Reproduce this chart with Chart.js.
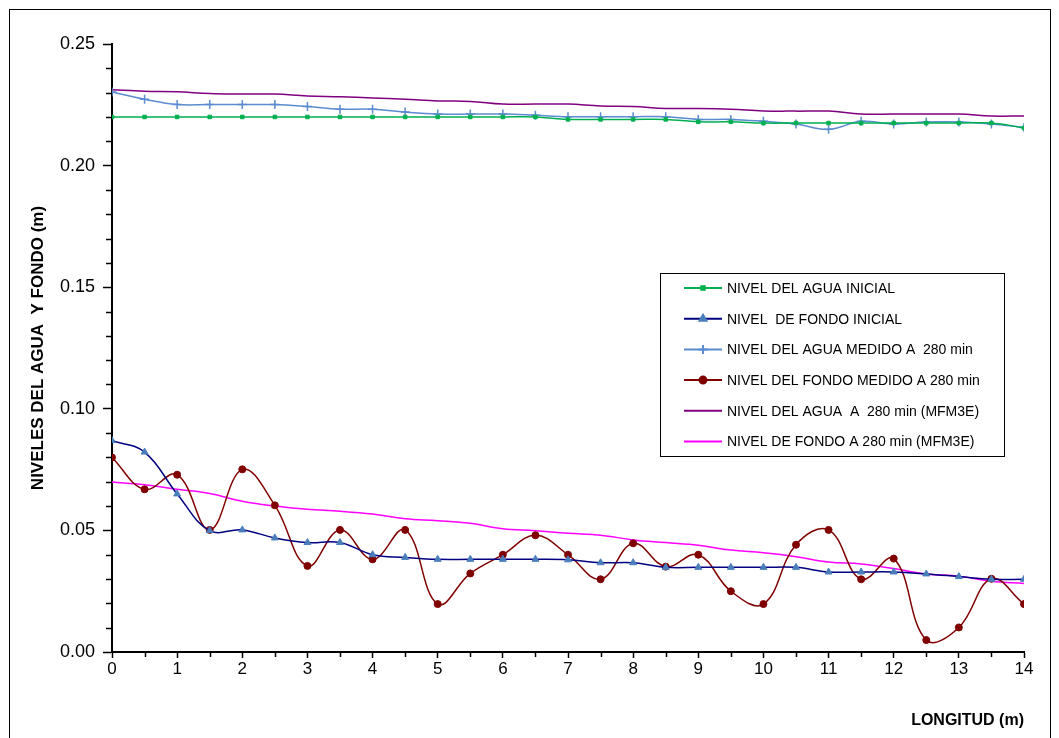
<!DOCTYPE html>
<html>
<head>
<meta charset="utf-8">
<script src="https://cdn.jsdelivr.net/npm/chart.js@4"></script>
<style>
  html, body { margin: 0; padding: 0; background: #fff; }
  #wrap { position: relative; width: 1059px; height: 738px; }
  #frame { position: absolute; left: 9px; top: 9px; width: 1040px; height: 740px; border: 1px solid #000; pointer-events: none; }
</style>
</head>
<body>
<div id="wrap">
  <canvas id="myChart" width="1059" height="738"></canvas>
  <div id="frame"></div>
</div>
<script>
// longitud (m)
const longitud = [0, 0.5, 1, 1.5, 2, 2.5, 3, 3.5, 4, 4.5, 5, 5.5, 6, 6.5, 7,
    7.5, 8, 8.5, 9, 9.5, 10, 10.5, 11, 11.5, 12, 12.5, 13, 13.5, 14];

const aguaInicial = [0.220, 0.220, 0.220, 0.220, 0.220, 0.220, 0.220, 0.220, 0.220, 0.220,
    0.220, 0.220, 0.220, 0.220, 0.219, 0.219, 0.219, 0.219, 0.218, 0.218,
    0.2175, 0.2175, 0.2175, 0.2175, 0.2175, 0.2175, 0.2175, 0.2175, 0.2155];

const fondoInicial = [0.0869, 0.0822, 0.0650, 0.0499, 0.0502, 0.0469, 0.0450, 0.0450, 0.0400, 0.0389,
    0.0381, 0.0381, 0.0381, 0.0381, 0.0379, 0.0367, 0.0367, 0.0348, 0.0348, 0.0348,
    0.0348, 0.0348, 0.0329, 0.0329, 0.0329, 0.0321, 0.0310, 0.0299, 0.0299];

const aguaMedido = [0.2303, 0.2273, 0.2251, 0.2251, 0.2251, 0.2251, 0.2243, 0.2232, 0.2232, 0.2220,
    0.2212, 0.2212, 0.2212, 0.2207, 0.2201, 0.2201, 0.2201, 0.2201, 0.2190, 0.2190,
    0.2182, 0.2171, 0.2149, 0.2182, 0.2171, 0.2179, 0.2179, 0.2171, 0.2157];

const fondoMedido = [0.0800, 0.0669, 0.0729, 0.0502, 0.0751, 0.0603, 0.0354, 0.0502, 0.0381, 0.0502,
    0.0197, 0.0323, 0.0400, 0.0480, 0.0400, 0.0299, 0.0447, 0.0351, 0.0400, 0.0250,
    0.0197, 0.0441, 0.0502, 0.0299, 0.0384, 0.0049, 0.0101, 0.0301, 0.0197];

const aguaModelo = [0.2312, 0.2306, 0.2304, 0.2296, 0.2294, 0.2294, 0.2286, 0.2283, 0.2278, 0.2273,
    0.2266, 0.2264, 0.2253, 0.2253, 0.2253, 0.2245, 0.2243, 0.2235, 0.2235, 0.2232,
    0.2225, 0.2224, 0.2224, 0.2212, 0.2212, 0.2212, 0.2212, 0.2204, 0.2204];

const fondoModelo = [0.0699, 0.0688, 0.0669, 0.0652, 0.0620, 0.0600, 0.0587, 0.0579, 0.0567, 0.0548,
    0.0540, 0.0529, 0.0507, 0.0499, 0.0488, 0.0480, 0.0461, 0.0450, 0.0439, 0.0419,
    0.0408, 0.0392, 0.0370, 0.0362, 0.0343, 0.0321, 0.0312, 0.0291, 0.0282];

const FONT = 'Arial, "Liberation Sans", sans-serif';

function pts(ys) {
    return longitud.map((x, i) => ({ x: x, y: ys[i] }));
}

function serie(label, ys, color, style, radius, fill) {
    return {
        label: label,
        data: pts(ys),
        borderColor: color,
        backgroundColor: fill || color,
        pointBorderColor: fill || color,
        pointBackgroundColor: fill || color,
        borderWidth: 1.5,
        pointStyle: style,
        pointRadius: radius,
        pointBorderWidth: style === 'cross' ? 1.5 : 1,
        tension: 0.4,
        fill: false
    };
}

const datasets = [
    serie('NIVEL DEL AGUA INICIAL', aguaInicial, '#00b050', 'rect', 2.5),
    serie('NIVEL  DE FONDO INICIAL', fondoInicial, '#000080', 'triangle', 4, '#4a7ebb'),
    serie('NIVEL DEL AGUA MEDIDO A  280 min', aguaMedido, '#5b8bd0', 'cross', 4.5),
    serie('NIVEL DEL FONDO MEDIDO A 280 min', fondoMedido, '#800000', 'circle', 3.5),
    serie('NIVEL DEL AGUA  A  280 min (MFM3E)', aguaModelo, '#800080', false, 0),
    serie('NIVEL DE FONDO A 280 min (MFM3E)', fondoModelo, '#ff00ff', false, 0)
];

// minor ticks on both axes
const minorTicks = {
    id: 'minorTicks',
    afterDraw(chart) {
        const ctx = chart.ctx;
        const xs = chart.scales.x, ys = chart.scales.y;
        const area = chart.chartArea;
        ctx.save();
        ctx.strokeStyle = '#000';
        ctx.lineWidth = 1.5;
        ctx.beginPath();
        for (let v = 1; v < 25; v++) {
            if (v % 5 === 0) continue;
            const py = Math.round(ys.getPixelForValue(v / 100)) + 0.5;
            ctx.moveTo(area.left - 6, py);
            ctx.lineTo(area.left, py);
        }
        for (let v = 1; v < 28; v += 2) {
            const px = Math.round(xs.getPixelForValue(v / 2)) + 0.5;
            ctx.moveTo(px, area.bottom);
            ctx.lineTo(px, area.bottom + 5);
        }
        ctx.stroke();
        ctx.restore();
    }
};

// legend box inside the plot
const boxLegend = {
    id: 'boxLegend',
    afterDraw(chart) {
        const ctx = chart.ctx;
        const left = 660, top = 273, w = 344, h = 183;
        ctx.save();
        ctx.fillStyle = '#fff';
        ctx.fillRect(left, top, w, h);
        ctx.strokeStyle = '#000';
        ctx.lineWidth = 1;
        ctx.strokeRect(left + 0.5, top + 0.5, w, h);
        ctx.font = '14px ' + FONT;
        ctx.textBaseline = 'middle';
        chart.data.datasets.forEach((ds, i) => {
            const y = top + 15 + i * 30.7;
            ctx.strokeStyle = ds.borderColor;
            ctx.lineWidth = 2;
            ctx.beginPath();
            ctx.moveTo(684, y);
            ctx.lineTo(722, y);
            ctx.stroke();
            if (ds.pointStyle) {
                ctx.fillStyle = ds.pointBackgroundColor;
                ctx.strokeStyle = ds.pointBorderColor;
                Chart.helpers.drawPoint(ctx, {
                    pointStyle: ds.pointStyle,
                    radius: ds.pointRadius,
                    borderWidth: ds.pointBorderWidth,
                    rotation: 0
                }, 703, y);
            }
            ctx.fillStyle = '#000';
            ctx.fillText(ds.label, 727, y + 1);
        });
        ctx.restore();
    }
};

const config = {
    type: 'line',
    data: { datasets },
    options: {
        responsive: false,
        animation: false,
        layout: { padding: { left: 0, right: 35, top: 44, bottom: 0 } },
        plugins: {
            legend: { display: false },
            tooltip: { enabled: false }
        },
        scales: {
            x: {
                type: 'linear',
                min: 0,
                max: 14,
                afterFit: s => { s.height = 86; },
                grid: { drawOnChartArea: false, tickLength: 6, tickColor: '#000', tickWidth: 1.5 },
                border: { color: '#000', width: 2 },
                ticks: { stepSize: 1, color: '#000', padding: 1, font: { family: FONT, size: 17 } },
                title: {
                    display: true,
                    text: 'LONGITUD (m)',
                    align: 'end',
                    color: '#000',
                    font: { family: FONT, size: 16, weight: 'bold' },
                    padding: { top: 0, bottom: 8 }
                }
            },
            y: {
                min: 0,
                max: 0.25,
                afterFit: s => { s.width = 112; },
                grid: { drawOnChartArea: false, tickLength: 9, tickColor: '#000', tickWidth: 1.5 },
                border: { color: '#000', width: 2 },
                ticks: {
                    stepSize: 0.05,
                    color: '#000',
                    padding: 8,
                    font: { family: FONT, size: 18 },
                    callback: v => v.toFixed(2)
                },
                title: {
                    display: true,
                    text: 'NIVELES DEL AGUA  Y FONDO (m)',
                    color: '#000',
                    font: { family: FONT, size: 17, weight: 'bold' },
                    padding: { top: 28, bottom: 0 }
                }
            }
        }
    },
    plugins: [minorTicks, boxLegend]
};

const myChart = new Chart(document.getElementById('myChart'), config);
</script>
</body>
</html>
